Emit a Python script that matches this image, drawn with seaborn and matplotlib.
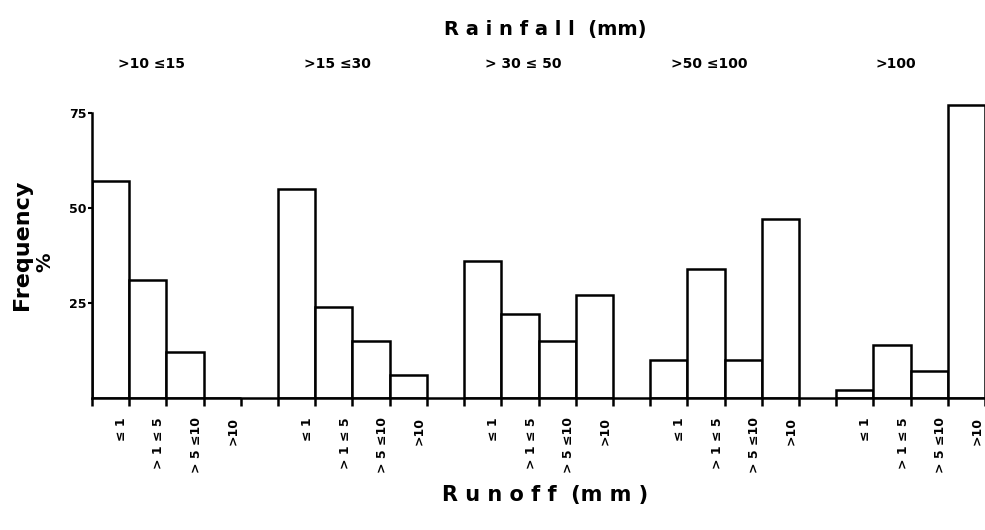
import numpy as np
import pandas as pd
import seaborn as sns
import matplotlib.pyplot as plt

# classes de ruissellement (axe x) et de pluie (groupes)
runoff_classes = ["≤ 1", "> 1 ≤ 5", "> 5 ≤10", ">10"]
rainfall_classes = [">10 ≤15", ">15 ≤30", "> 30 ≤ 50", ">50 ≤100", ">100"]

# fréquences (%)
freq_10_15 = [57, 31, 12, 0]
freq_15_30 = [55, 24, 15, 6]
freq_30_50 = [36, 22, 15, 27]
freq_50_100 = [10, 34, 10, 47]
freq_over_100 = [2, 14, 7, 77]

all_freqs = [freq_10_15, freq_15_30, freq_30_50, freq_50_100, freq_over_100]

rows = []
for g, freqs in enumerate(all_freqs):
    for i, f in enumerate(freqs):
        rows.append({'slot': 5 * g + i + 0.5, 'freq': f,
                     'rainfall': rainfall_classes[g], 'runoff': runoff_classes[i]})
df = pd.DataFrame(rows)

sns.set_style('white')
plt.rcParams['font.family'] = ['DejaVu Sans']
plt.rcParams['font.weight'] = 'bold'
plt.rcParams['text.color'] = 'black'
plt.rcParams['xtick.color'] = 'black'
plt.rcParams['ytick.color'] = 'black'

fig = plt.figure(figsize=(9.85, 5.3), dpi=100)
ax = fig.add_axes([92 / 985, 1 - 398 / 530, 1 - 92 / 985, (398 - 94) / 530])

sns.barplot(data=df, x='slot', y='freq', native_scale=True, width=1,
            color='white', edgecolor='black', linewidth=1.8, errorbar=None,
            ax=ax)

ax.set_xlim(0, 23.8)
ax.set_ylim(0, 80)

# axes
sns.despine(ax=ax, top=True, right=True)
ax.spines['left'].set_bounds(0, 75)
for s in ['left', 'bottom']:
    ax.spines[s].set_linewidth(1.8)
    ax.spines[s].set_color('black')

ax.set_yticks([25, 50, 75])
ax.set_yticklabels(['25', '50', '75'], fontsize=9, fontweight='bold')
ax.tick_params(axis='y', direction='out', length=3, width=1.5, pad=1, left=True)

# petits traits aux limites des barres, étiquettes à droite de chaque barre
bounds = [5 * g + i for g in range(5) for i in range(5)]
ax.set_xticks(bounds, minor=True)
ax.tick_params(axis='x', which='minor', direction='out', length=6, width=1.8, bottom=True)
label_pos = [5 * g + i + 0.8 for g in range(5) for i in range(4)]
ax.set_xticks(label_pos)
ax.set_xticklabels(runoff_classes * 5, rotation=90, fontsize=9, fontweight='bold',
                   va='top', ha='center')
ax.tick_params(axis='x', which='major', length=0, pad=14)

ax.set_xlabel('')
ax.set_ylabel('')

# classes de pluie au-dessus
trans = ax.get_xaxis_transform()
for g, lab in enumerate(rainfall_classes):
    ax.text(5 * g + 1.6, 1.1, lab, transform=trans, ha='center', va='center',
            fontsize=10, fontweight='bold', clip_on=False)

fig.text(545 / 985, 1 - 30 / 530, 'R a i n f a l l  (mm)', ha='center', va='center',
         fontsize=14, fontweight='bold')
fig.text(545 / 985, 1 - 495 / 530, 'R u n o f f  (m m )', ha='center', va='center',
         fontsize=15, fontweight='bold')
fig.text(22 / 985, 1 - 245 / 530, 'Frequency', rotation=90, ha='center', va='center',
         fontsize=16, fontweight='bold')
fig.text(45 / 985, 1 - 262 / 530, '%', rotation=90, ha='center', va='center',
         fontsize=14, fontweight='bold')

fig.savefig('out.png', dpi=100)
